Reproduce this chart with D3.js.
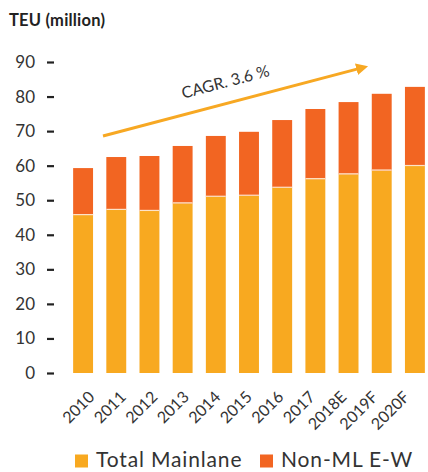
<!DOCTYPE html>
<html>
<head>
<meta charset="utf-8">
<script src="https://cdn.jsdelivr.net/npm/d3@7"></script>
<style>
  html, body { margin: 0; padding: 0; background: #fff; }
  svg { display: block; font-family: Lato, "Open Sans", sans-serif; }
</style>
</head>
<body>
<svg id="chart" width="428" height="472"></svg>
<script>
// данные
const years = ["2010", "2011", "2012", "2013", "2014", "2015", "2016", "2017", "2018E", "2019F", "2020F"];
const mainlane = [45.7, 47.2, 46.9, 49.1, 51.0, 51.3, 53.6, 56.1, 57.5, 58.6, 59.9];
const nonML = [13.6, 15.3, 15.9, 16.6, 17.6, 18.5, 19.6, 20.3, 20.9, 22.2, 22.9];
const yTicks = [0, 10, 20, 30, 40, 50, 60, 70, 80, 90];
const seriesNames = ["Total Mainlane", "Non-ML E-W"];
const colors = ["#F8A920", "#F26522"];

const svg = d3.select("#chart");

const x = d3.scaleBand().domain(years).range([66.5, 431.5]).paddingInner(0.4).paddingOuter(0.2);
const y = d3.scaleLinear().domain([0, 90]).range([373, 62]);
// подписи годов идут чуть плотнее, чем столбцы
const xLabel = d3.scalePoint().domain(years).range([83, 398]);

// заголовок
svg.append("text")
  .attr("x", 9).attr("y", 26)
  .attr("font-size", 16.5).attr("font-weight", "bold").attr("fill", "#222")
  .attr("letter-spacing", 0.2)
  .text("TEU (million)");

// ось Y — только короткие черточки
const yAxis = svg.append("g").attr("transform", "translate(54,0)")
  .call(d3.axisLeft(y).tickValues(yTicks).tickSize(7).tickPadding(12));
yAxis.select(".domain").remove();
yAxis.selectAll(".tick line").attr("stroke", "#222").attr("stroke-width", 2.2);
yAxis.selectAll(".tick text").attr("font-size", 17).attr("fill", "#333").attr("font-family", "Lato, sans-serif");

// столбцы
const rows = years.map((yr, i) => ({ year: yr, ml: mainlane[i], non: nonML[i] }));
const g = svg.append("g");

g.selectAll(".ml").data(rows).join("rect")
  .attr("class", "ml")
  .attr("x", d => x(d.year)).attr("width", x.bandwidth())
  .attr("y", d => y(d.ml)).attr("height", d => y(0) - y(d.ml))
  .attr("fill", colors[0]);

g.selectAll(".non").data(rows).join("rect")
  .attr("class", "non")
  .attr("x", d => x(d.year)).attr("width", x.bandwidth())
  .attr("y", d => y(d.ml + d.non)).attr("height", d => y(d.ml) - y(d.ml + d.non))
  .attr("fill", colors[1]);

// тонкая светлая линия между сегментами
g.selectAll(".sep").data(rows).join("line")
  .attr("class", "sep")
  .attr("x1", d => x(d.year)).attr("x2", d => x(d.year) + x.bandwidth())
  .attr("y1", d => y(d.ml) - 0.5).attr("y2", d => y(d.ml) - 0.5)
  .attr("stroke", "#fde3c8").attr("stroke-width", 1.2);

// подписи по оси X
const xAxis = svg.append("g").attr("transform", "translate(0,377)")
  .call(d3.axisBottom(xLabel).tickSize(0).tickPadding(0));
xAxis.select(".domain").remove();
xAxis.selectAll(".tick text")
  .attr("font-size", 16).attr("fill", "#333").attr("font-family", "Lato, sans-serif")
  .attr("text-anchor", "end")
  .attr("dy", 0)
  .attr("transform", "translate(12,21) rotate(-45)");

// стрелка CAGR
const step = x.step();
const arrowStart = { year: "2010", shift: 0.6, value: 68.6 };
const arrowEnd = { year: "2019F", shift: -0.45, value: 88.7 };
const ax = d => x(d.year) + x.bandwidth() / 2 + d.shift * step;
const x1 = ax(arrowStart), y1 = y(arrowStart.value);
const x2 = ax(arrowEnd), y2 = y(arrowEnd.value);

svg.append("defs").append("marker")
  .attr("id", "head").attr("viewBox", "0 0 10 10")
  .attr("refX", 2).attr("refY", 5)
  .attr("markerWidth", 4).attr("markerHeight", 4)
  .attr("orient", "auto")
  .append("path").attr("d", "M0,0 L10,5 L0,10 z").attr("fill", "#F7A823");

svg.append("line")
  .attr("x1", x1).attr("y1", y1).attr("x2", x2 - 8).attr("y2", y2 + 2.1)
  .attr("stroke", "#F7A823").attr("stroke-width", 3)
  .attr("marker-end", "url(#head)");

const ang = Math.atan2(y2 - y1, x2 - x1) * 180 / Math.PI;
svg.append("text")
  .attr("transform", `translate(${(x1 + x2) / 2 - 8},${(y1 + y2) / 2 - 14}) rotate(${ang})`)
  .attr("text-anchor", "middle")
  .attr("font-size", 16).attr("fill", "#333")
  .text("CAGR. 3.6 %");

// легенда
const legend = svg.append("g").attr("transform", "translate(0,461)");
const lx = [75, 260];
seriesNames.forEach((n, i) => {
  legend.append("rect").attr("x", lx[i]).attr("y", -6.5).attr("width", 13).attr("height", 13).attr("fill", colors[i]);
  legend.append("text").attr("x", lx[i] + 21).attr("y", 6)
    .attr("font-size", 21).attr("letter-spacing", 0.85).attr("fill", "#333").text(n);
});
</script>
</body>
</html>
